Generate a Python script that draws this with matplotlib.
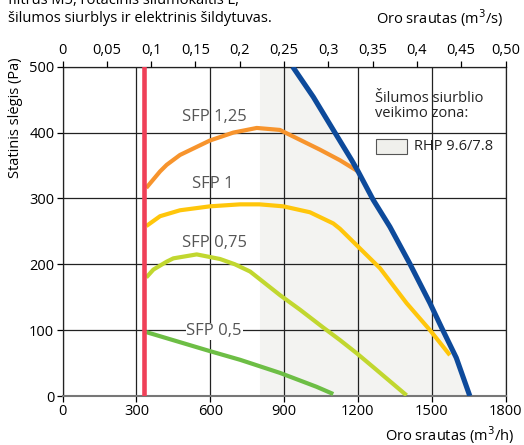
import matplotlib.pyplot as plt
import numpy as np

plt.rcParams['font.family'] = ['Open Sans', 'DejaVu Sans']

# air flow (m3/h) / static pressure (Pa)
blue_q = [935, 1019, 1100, 1175, 1201, 1262, 1330, 1411, 1493, 1540, 1600, 1655]
blue_p = [500, 454, 404, 358, 341, 298, 257, 201, 141, 104, 58, 0]

sfp125_q = [340, 396, 423, 477, 599, 694, 789, 883, 1046, 1127, 1201]
sfp125_p = [316, 341, 351, 366, 388, 400, 407, 404, 374, 358, 341]

sfp1_q = [340, 396, 477, 599, 721, 800, 897, 1005, 1100, 1127, 1195, 1290, 1398, 1493, 1574]
sfp1_p = [258, 273, 282, 288, 291, 291, 288, 279, 262, 254, 229, 194, 141, 100, 62]

sfp075_q = [340, 369, 423, 450, 545, 640, 700, 762, 884, 965, 1059, 1127, 1195, 1262, 1398]
sfp075_p = [180, 192, 204, 209, 215, 208, 200, 189, 153, 131, 104, 85, 65, 44, 1]

sfp05_q = [340, 600, 721, 762, 884, 1032, 1100]
sfp05_p = [97, 68, 55, 50, 35, 14, 3]

min_flow = 332
zone_start = 800

sfp_labels = ['SFP 1,25', 'SFP 1', 'SFP 0,75', 'SFP 0,5']
sfp_label_pos = [(616, 423), (612, 322), (616, 233), (616, 98)]

top_ticks = [0, 0.05, 0.1, 0.15, 0.2, 0.25, 0.3, 0.35, 0.4, 0.45, 0.5]
top_labels = ['0', '0,05', '0,1', '0,15', '0,2', '0,25', '0,3', '0,35', '0,4', '0,45', '0,50']

fig = plt.figure(figsize=(5.24, 4.45), dpi=100)
ax = fig.add_axes([0.1195, 0.1101, 0.8452, 0.7400])

ax.set_xlim(0, 1800)
ax.set_ylim(0, 500)
ax.set_xticks(np.arange(0, 1801, 300))
ax.set_yticks(np.arange(0, 501, 100))
ax.grid(True, color='#222222', lw=0.9, zorder=1)
ax.set_axisbelow(True)
ax.tick_params(direction='out', length=4, width=0.9, labelsize=10.5, pad=2)
for s in ax.spines.values():
    s.set_linewidth(0.9)
    s.set_color('#222222')
ax.spines['bottom'].set_color('#777777')
ax.spines['bottom'].set_linewidth(1.5)

# heat pump operating zone
ax.fill_betweenx(blue_p, zone_start, blue_q, color='#f3f3f1', lw=0, zorder=0.5)

line_kw = dict(solid_capstyle='butt', solid_joinstyle='round', zorder=3)
ax.plot(sfp05_q, sfp05_p, color='#6dbe45', lw=3, **line_kw)
ax.plot(sfp075_q, sfp075_p, color='#c1d72f', lw=3, **line_kw)
ax.plot(sfp1_q, sfp1_p, color='#ffc60b', lw=3, **line_kw)
ax.plot(sfp125_q, sfp125_p, color='#f7942d', lw=3, **line_kw)
ax.plot(blue_q, blue_p, color='#0d4a9b', lw=3.7, solid_capstyle='butt',
        solid_joinstyle='round', zorder=4)
ax.axvline(min_flow, color='#ef4058', lw=3.3, zorder=5)

for lab, (x, y) in zip(sfp_labels, sfp_label_pos):
    t = ax.text(x, y, lab, ha='center', va='center', fontsize=12, color='#555555', zorder=6)
    if lab == 'SFP 0,5':
        t.set_bbox(dict(facecolor='white', edgecolor='none', pad=0.5))

ax.text(1270, 440, 'Šilumos siurblio\nveikimo zona:', ha='left', va='center',
        fontsize=10.5, linespacing=1.05, color='#222222')
ax.add_patch(plt.Rectangle((1275, 368), 125, 22, facecolor='#f0f0ec',
                           edgecolor='#555555', lw=0.8, zorder=6))
ax.text(1430, 379, 'RHP 9.6/7.8', ha='left', va='center', fontsize=10.5, color='#222222')

ax2 = ax.twiny()
ax2.set_xlim(0, 0.5)
ax2.set_xticks(top_ticks)
ax2.set_xticklabels(top_labels)
ax2.tick_params(direction='out', length=4, width=0.9, labelsize=10.5, pad=2)
for s in ax2.spines.values():
    s.set_visible(False)

fig.text(16 / 524, 1 - 118 / 445, 'Statinis slėgis (Pa)', rotation=90,
         ha='center', va='center', fontsize=10.5)
fig.text(8 / 524, 1 - 1 / 445, 'filtrus M5, rotacinis šilumokaitis L,',
         ha='left', va='center', fontsize=10.5)
fig.text(8 / 524, 1 - 19 / 445, 'šilumos siurblys ir elektrinis šildytuvas.',
         ha='left', va='center', fontsize=10.5)
fig.text(503 / 524, 1 - 18 / 445, 'Oro srautas (m$^3$/s)', ha='right', va='center', fontsize=10.5)
fig.text(514 / 524, 1 - 435 / 445, 'Oro srautas (m$^3$/h)', ha='right', va='center', fontsize=10.5)

fig.savefig('out.png', dpi=100)
